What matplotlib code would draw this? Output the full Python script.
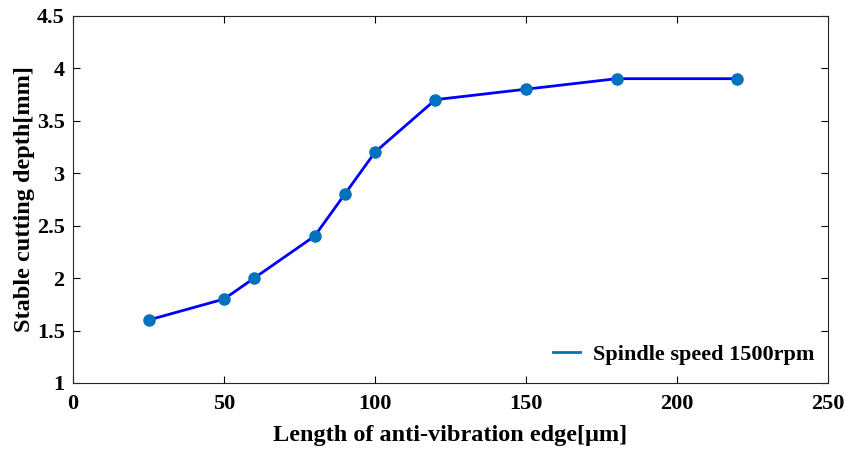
import matplotlib
matplotlib.use("Agg")
import matplotlib.pyplot as plt
from matplotlib.lines import Line2D

x_len = [25, 50, 60, 80, 90, 100, 120, 150, 180, 220]
depth = [1.6, 1.8, 2.0, 2.4, 2.8, 3.2, 3.7, 3.8, 3.9, 3.9]
series_label = "Spindle speed 1500rpm"
xlabel = "Length of anti-vibration edge[\u03bcm]"
ylabel = "Stable cutting depth[mm]"
xticks = [0, 50, 100, 150, 200, 250]
yticks = [1, 1.5, 2, 2.5, 3, 3.5, 4, 4.5]

plt.rcParams['font.family'] = ['Liberation Serif', 'DejaVu Serif']
plt.rcParams['font.weight'] = 'bold'

fig = plt.figure(figsize=(8.59, 4.49), dpi=100)
ax = fig.add_axes([0.085, 0.147, 0.879, 0.818])

ax.plot(x_len, depth, color='#0000FF', lw=2.0, zorder=2)
ax.plot(x_len, depth, ls='none', marker='o', ms=8, color='#0072BD',
        markeredgecolor='#0072BD', zorder=3)

ax.set_xlim(0, 250)
ax.set_ylim(1, 4.5)
ax.set_xticks(xticks)
ax.set_yticks(yticks)
ax.set_xticklabels([str(t) for t in xticks])
ax.set_yticklabels([('%g' % t) for t in yticks])
ax.tick_params(direction='in', top=True, right=True, length=5, width=0.8,
               labelsize=16)
ax.tick_params(axis='x', pad=8)
ax.tick_params(axis='y', pad=6)
for lab in ax.get_xticklabels() + ax.get_yticklabels():
    lab.set_fontweight('bold')
for s in ax.spines.values():
    s.set_linewidth(0.8)
    s.set_color('#262626')

ax.set_xlabel(xlabel, fontsize=17.5, fontweight='bold', labelpad=8)
ax.set_ylabel(ylabel, fontsize=17.5, fontweight='bold', labelpad=1)

handle = Line2D([], [], color='#0072BD', lw=2.0)
ax.legend([handle], [series_label], loc='lower right', frameon=False,
          prop={'size': 16, 'weight': 'bold'}, handlelength=1.2,
          handletextpad=0.6, bbox_to_anchor=(1.009, -0.005))

fig.savefig("out.png", dpi=100)
